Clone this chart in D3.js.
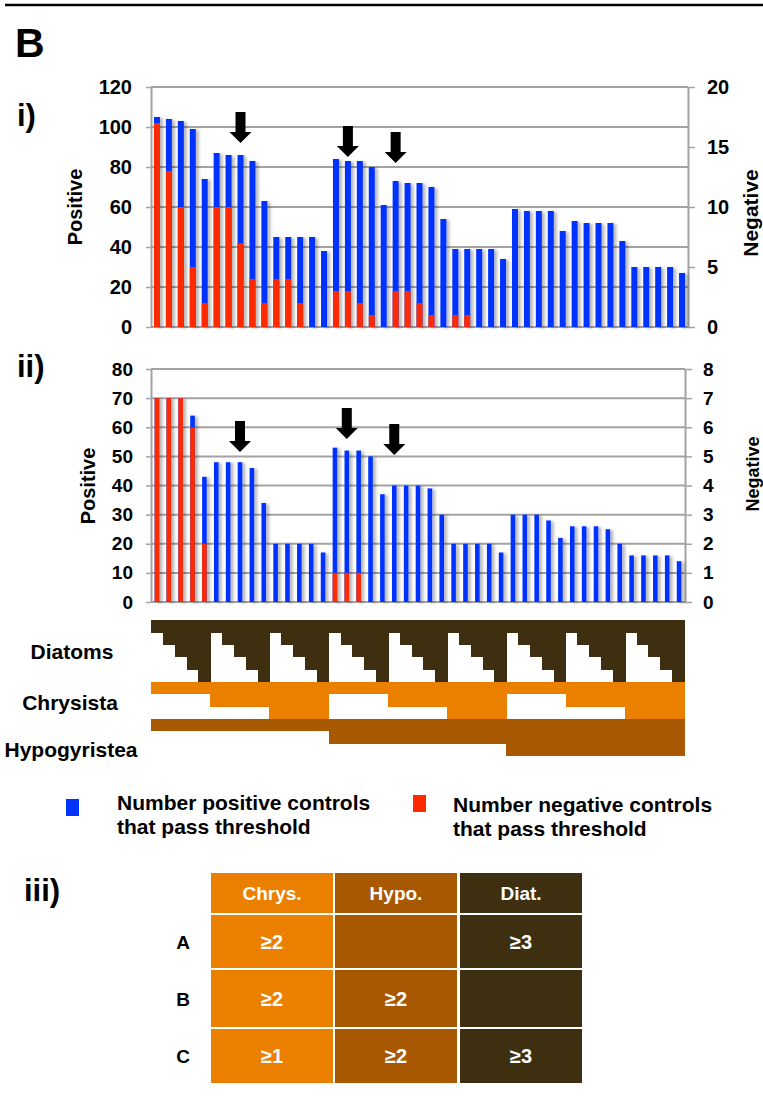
<!DOCTYPE html>
<html><head><meta charset="utf-8">
<script src="https://cdn.jsdelivr.net/npm/d3@7"></script>
<style>
body{margin:0;background:#fff;}
text{font-family:"Liberation Sans",Arial,Helvetica,sans-serif;font-weight:bold;}
</style></head>
<body><svg id="c" width="763" height="1103"></svg>
<script>
// ---------------- data ----------------
const columns = d3.range(1, 46);
const posI = [105,104,103,99,74,87,86,86,83,63,45,45,45,45,38,84,83,83,80,61,73,72,72,70,54,39,39,39,39,34,59,58,58,58,48,53,52,52,52,43,30,30,30,30,27];
const negI = [17,13,10,5,2,10,10,7,4,2,4,4,2,0,0,3,3,2,1,0,3,3,2,1,0,1,1,0,0,0,0,0,0,0,0,0,0,0,0,0,0,0,0,0,0];
const posII = [70,70,70,64,43,48,48,48,46,34,20,20,20,20,17,53,52,52,50,37,40,40,40,39,30,20,20,20,20,17,30,30,30,28,22,26,26,26,25,20,16,16,16,16,14];
const negII = [7,7,7,6,2,0,0,0,0,0,0,0,0,0,0,1,1,1,0,0,0,0,0,0,0,0,0,0,0,0,0,0,0,0,0,0,0,0,0,0,0,0,0,0,0];
const leftTicksI = [0,20,40,60,80,100,120];
const rightTicksI = [0,5,10,15,20];
const leftTicksII = [0,10,20,30,40,50,60,70,80];
const rightTicksII = [0,1,2,3,4,5,6,7,8];
const arrowColsI = [8,17,21], arrowTipI = [92,85,82];
const arrowColsII = [8,17,21], arrowTipII = [51.5,56,50.5];
// strip levels
const diatomLevelInGroup = [1,2,3,4,5];
const chrysLevelByGroup = [1,2,3,1,2,3,1,2,3];
const hypoLevelByGroup = [1,1,1,2,2,2,3,3,3];
const stripLabels = ["Diatoms","Chrysista","Hypogyristea"];
const legendItems = [["Number positive controls","that pass threshold"],["Number negative controls","that pass threshold"]];
const tableHeaders = ["Chrys.","Hypo.","Diat."];
const tableRows = ["A","B","C"];
const tableCells = [["≥2","","≥3"],["≥2","≥2",""],["≥1","≥2","≥3"]];

const BLUE = "#0033ff", RED = "#ff2a00";
const C_DIAT = "#3d2f10", C_CHRYS = "#ea7f00", C_HYPO = "#a85800";

const svg = d3.select("#c");
const defs = svg.append("defs");
const f = defs.append("filter").attr("id","sh").attr("x","-50%").attr("y","-10%").attr("width","250%").attr("height","120%");
f.append("feDropShadow").attr("dx",3).attr("dy",1).attr("stdDeviation",1.4).attr("flood-color","#000").attr("flood-opacity",0.28);

// top rule
svg.append("line").attr("x1",5).attr("x2",763).attr("y1",5).attr("y2",5).attr("stroke","#000").attr("stroke-width",2.5);
svg.append("text").attr("x",15).attr("y",57).attr("font-size",41).text("B");

function drawChart(o){
  const g = svg.append("g");
  const x = d3.scaleBand().domain(columns).range([o.x0,o.x1]).paddingInner(0).paddingOuter(0);
  const yL = d3.scaleLinear().domain([0,o.leftMax]).range([o.yBot,o.yTop]);
  const yR = d3.scaleLinear().domain([0,o.rightMax]).range([o.yBot,o.yTop]);
  // grid
  g.append("g").selectAll("line").data(o.leftTicks).join("line")
    .attr("x1",o.x0).attr("x2",o.x1).attr("y1",d=>yL(d)).attr("y2",d=>yL(d))
    .attr("stroke","#a3a3a3").attr("stroke-width",2);
  // axes
  const aL = g.append("g").attr("transform",`translate(${o.x0},0)`)
    .call(d3.axisLeft(yL).tickValues(o.leftTicks).tickSize(5).tickPadding(o.padL).tickSizeOuter(0));
  const aR = g.append("g").attr("transform",`translate(${o.x1},0)`)
    .call(d3.axisRight(yR).tickValues(o.rightTicks).tickSize(7).tickPadding(o.padR).tickSizeOuter(0));
  [aL,aR].forEach(a=>{
    a.select(".domain").attr("stroke","#a3a3a3").attr("stroke-width",2);
    a.selectAll(".tick line").attr("stroke","#a3a3a3").attr("stroke-width",1.5);
    a.selectAll("text").attr("font-size",o.fs).attr("fill","#000")
      .attr("font-family","Liberation Sans, Arial, sans-serif").attr("font-weight","bold");
  });
  // bars
  const bw = o.barW;
  const bg = g.append("g").attr("filter","url(#sh)");
  bg.selectAll("rect.p").data(columns).join("rect").attr("class","p")
    .attr("x",d=>x(d)+x.bandwidth()/2-bw/2).attr("width",bw)
    .attr("y",(d,i)=>yL(o.pos[i])).attr("height",(d,i)=>o.yBot-yL(o.pos[i]))
    .attr("fill",BLUE);
  bg.selectAll("rect.n").data(columns.filter((d,i)=>o.neg[i]>0)).join("rect").attr("class","n")
    .attr("x",d=>x(d)+x.bandwidth()/2-bw/2).attr("width",bw)
    .attr("y",d=>yR(o.neg[d-1])).attr("height",d=>o.yBot-yR(o.neg[d-1]))
    .attr("fill",RED);
  // arrows
  o.arrowCols.forEach((c,i)=>{
    const cx = x(c)+x.bandwidth()/2, ty = yL(o.arrowTips[i]);
    const p = d3.path();
    p.moveTo(cx,ty); p.lineTo(cx-11,ty-11); p.lineTo(cx-5,ty-11); p.lineTo(cx-5,ty-31);
    p.lineTo(cx+5,ty-31); p.lineTo(cx+5,ty-11); p.lineTo(cx+11,ty-11); p.closePath();
    g.append("path").attr("d",p.toString()).attr("fill","#000");
  });
  // axis titles
  g.append("text").attr("transform",`translate(${o.posX},${o.posY}) rotate(-90)`)
    .attr("text-anchor","middle").attr("font-size",20).text("Positive");
  g.append("text").attr("transform",`translate(${o.negX},${o.negY}) rotate(-90)`)
    .attr("text-anchor","middle").attr("font-size",o.negFs).text("Negative");
  g.append("text").attr("x",17).attr("y",o.labY).attr("font-size",31).text(o.lab);
}

drawChart({pos:posI,neg:negI,x0:151,x1:688,yTop:87,yBot:327,leftMax:120,rightMax:20,
  leftTicks:leftTicksI,rightTicks:rightTicksI,padL:14,padR:12,fs:20,barW:6,
  arrowCols:arrowColsI,arrowTips:arrowTipI,posX:82,posY:207,negX:758,negY:213,negFs:21,lab:"i)",labY:126});
drawChart({pos:posII,neg:negII,x0:151,x1:685,yTop:369,yBot:602,leftMax:80,rightMax:8,
  leftTicks:leftTicksII,rightTicks:rightTicksII,padL:13,padR:11,fs:19,barW:4.6,
  arrowCols:arrowColsII,arrowTips:arrowTipII,posX:95,posY:486,negX:759,negY:474,negFs:18,lab:"ii)",labY:377});

// ---------------- strip ----------------
const xs = d3.scaleBand().domain(columns).range([151,684]);
const rowH = 12.33, stripTop = 620;
const ys = d3.scaleLinear().domain([0,11]).range([stripTop, stripTop+11*rowH]);
const strip = svg.append("g").attr("shape-rendering","crispEdges");
const cells = [];
columns.forEach((c,i)=>{
  const grp = Math.floor(i/5), k = i%5;
  const dl = diatomLevelInGroup[k], cl = chrysLevelByGroup[grp], hl = hypoLevelByGroup[grp];
  cells.push({c, r0:0, r1:dl, col:C_DIAT});
  cells.push({c, r0:5, r1:5+cl, col:C_CHRYS});
  cells.push({c, r0:8, r1:8+hl, col:C_HYPO});
});
strip.selectAll("rect").data(cells).join("rect")
  .attr("x",d=>xs(d.c)).attr("width",xs.bandwidth()+0.8)
  .attr("y",d=>ys(d.r0)).attr("height",d=>ys(d.r1)-ys(d.r0)+0.5)
  .attr("fill",d=>d.col);
const labPos = [[72,659],[70,710],[71,757]];
stripLabels.forEach((t,i)=>svg.append("text").attr("x",labPos[i][0]).attr("y",labPos[i][1])
  .attr("text-anchor","middle").attr("font-size",21).text(t));

// ---------------- legend ----------------
const legColors = [BLUE, RED];
const legSq = [[66,799],[413,795]], legTx = [[117,810],[453,812]];
legendItems.forEach((lines,i)=>{
  svg.append("rect").attr("x",legSq[i][0]).attr("y",legSq[i][1]).attr("width",13).attr("height",17).attr("fill",legColors[i]);
  lines.forEach((t,j)=>svg.append("text").attr("x",legTx[i][0]).attr("y",legTx[i][1]+j*24)
    .attr("font-size",21).text(t));
});

// ---------------- table ----------------
svg.append("text").attr("x",24).attr("y",901).attr("font-size",31).text("iii)");
const colX = [211,335,460], colW = 122;
const colColors = [C_CHRYS, C_HYPO, C_DIAT];
const rowY = [873,915,970,1029], rowHs = [40,53,57,54];
const tg = svg.append("g");
tableHeaders.forEach((h,j)=>{
  tg.append("rect").attr("x",colX[j]).attr("y",rowY[0]).attr("width",colW).attr("height",rowHs[0]).attr("fill",colColors[j]);
  tg.append("text").attr("x",colX[j]+colW/2).attr("y",rowY[0]+rowHs[0]/2+7).attr("text-anchor","middle")
    .attr("font-size",19).attr("fill","#fff").text(h);
});
tableRows.forEach((r,i)=>{
  const y0 = rowY[i+1], h = rowHs[i+1];
  tg.append("text").attr("x",183).attr("y",y0+h/2+7).attr("text-anchor","middle").attr("font-size",19).text(r);
  tableCells[i].forEach((v,j)=>{
    tg.append("rect").attr("x",colX[j]).attr("y",y0).attr("width",colW).attr("height",h).attr("fill",colColors[j]);
    tg.append("text").attr("x",colX[j]+colW/2).attr("y",y0+h/2+7).attr("text-anchor","middle")
      .attr("font-size",20).attr("fill","#fff").text(v);
  });
});
</script></body></html>
